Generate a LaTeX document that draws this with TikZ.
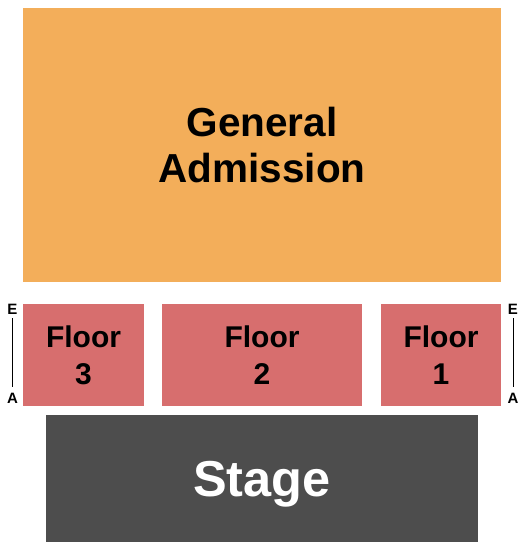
\documentclass[tikz,border=0pt]{standalone}
\usepackage{fontspec}
\setmainfont{Liberation Sans}
\usetikzlibrary{positioning}
\definecolor{gacol}{RGB}{243,174,90}
\definecolor{floorcol}{RGB}{215,110,110}
\definecolor{stagecol}{RGB}{77,77,77}
\tikzstyle{area}=[rectangle,inner sep=0pt,align=center,font=\bfseries]
\tikzstyle{ga}=[area,fill=gacol,font=\fontsize{40.5}{46}\selectfont\bfseries]
\tikzstyle{flr}=[area,fill=floorcol,minimum height=102pt,font=\fontsize{30}{37}\selectfont\bfseries]
\tikzstyle{row}=[inner sep=0pt,font=\fontsize{15}{15}\selectfont\bfseries]

\begin{document}
\begin{tikzpicture}[x=1pt,y=-1pt]
    \useasboundingbox (0,0) rectangle (525,550);
    \node[ga, minimum width=478pt, minimum height=274pt] (ga) at (262,145) {General\\Admission};
    \node[flr, minimum width=121pt] (f3) at (83.5,355) {Floor\\3};
    \node[flr, minimum width=200pt] (f2) at (262,355) {Floor\\2};
    \node[flr, minimum width=120pt] (f1) at (441,355) {Floor\\1};
    \node[area, fill=stagecol, text=white, minimum width=432pt, minimum height=127pt, text depth=0pt,
          font=\fontsize{50.5}{54}\selectfont\bfseries] (stage) at (262,478.5) {Stage};
    % row letters
    \node[row] (le) at (12.5,309) {E};
    \node[row] (la) at (12.5,398) {A};
    \node[row] (re) at (513,309) {E};
    \node[row] (ra) at (513,398) {A};
    \draw[line width=1pt] ([yshift=-4pt]le.south) -- ([yshift=6pt]la.north);
    \draw[line width=1pt] ([yshift=-4pt]re.south) -- ([yshift=6pt]ra.north);
\end{tikzpicture}
\end{document}
